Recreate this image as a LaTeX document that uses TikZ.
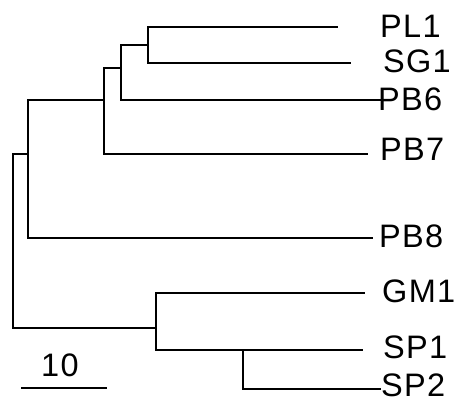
\documentclass[tikz,border=0pt]{standalone}
\usepackage{fontspec}
\setmainfont{Liberation Sans}
\newfontfamily\labelfont[LetterSpace=4]{Liberation Sans}
\begin{document}
\begin{tikzpicture}[x=1pt,y=-1pt,
  branch/.style={line width=2.3pt,line cap=rect},
  taxon/.style={anchor=west,inner sep=0pt,font=\labelfont\fontsize{32.5pt}{32.5pt}\selectfont}]
\useasboundingbox (0,0) rectangle (454,398);
% internal nodes
\coordinate (n1) at (148,45);   % PL1 + SG1
\coordinate (n2) at (121,84);   % n1 + PB6
\coordinate (n3) at (104,111);  % n2 + PB7
\coordinate (n4) at (28,169);   % n3 + PB8
\coordinate (n6) at (243,370);  % SP1 + SP2
\coordinate (n5) at (156,330);  % GM1 + n6
\coordinate (root) at (13,241);
% branch tips
\coordinate (tPL1) at (337,27);
\coordinate (tSG1) at (350,63);
\coordinate (tPB6) at (380,100);
\coordinate (tPB7) at (367,154);
\coordinate (tPB8) at (372,238);
\coordinate (tGM1) at (364,293);
\coordinate (tSP1) at (362,350);
\coordinate (tSP2) at (380,389);
% labels
\node[taxon] (PL1) at (380,26) {PL1};
\node[taxon] (SG1) at (383,61) {SG1};
\node[taxon] (PB6) at (378,99) {PB6};
\node[taxon] (PB7) at (380,149) {PB7};
\node[taxon] (PB8) at (379,236) {PB8};
\node[taxon] (GM1) at (382,291) {GM1};
\node[taxon] (SP1) at (383,347) {SP1};
\node[taxon] (SP2) at (381,385) {SP2};
% branches
\draw[branch] (tPL1) -| (n1) |- (tSG1);
\draw[branch] (n1) -| (n2);
\draw[branch] (n2) |- (tPB6);
\draw[branch] (n2 |- 0,68) -| (n3) |- (tPB7);
\draw[branch] (n3 |- 0,100) -| (n4) |- (tPB8);
\draw[branch] (n4 |- 0,154) -| (root) |- (n5 |- 0,328);
\draw[branch] (tGM1) -| (n5) |- (tSP1 -| n6);
\draw[branch] (tSP1) -| (n6) |- (tSP2);
% scale bar
\coordinate (sbL) at (21,388);
\coordinate (sbR) at (107,388);
\draw[line width=1.8pt] (sbL) -- (sbR);
\node[taxon] (sblabel) at (41,365) {10};
\end{tikzpicture}
\end{document}
